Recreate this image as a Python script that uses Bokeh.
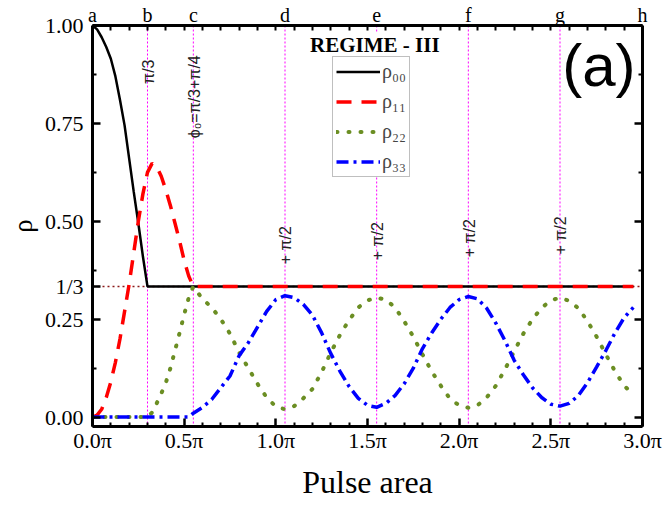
import math
from bokeh.plotting import figure
from bokeh.models import (Range1d, LinearAxis, FixedTicker, CustomJSTickFormatter, Span,
                          Label, LabelSet, ColumnDataSource, Legend, LegendItem)
from bokeh.embed import file_html
from bokeh.resources import INLINE
from bokeh.core.properties import value

# ---------------- data ----------------
pulse_area = [0.0, 0.025, 0.05, 0.075, 0.1, 0.125, 0.15, 0.175, 0.2, 0.225, 0.25, 0.275,
              0.3, 0.325, 0.35, 0.375, 0.4, 0.425, 0.45, 0.475, 0.5, 0.525, 0.55,
              0.6, 0.65, 0.7, 0.75, 0.8, 0.85, 0.9, 0.95, 1.0, 1.05,
              1.1, 1.15, 1.2, 1.25, 1.3, 1.35, 1.4, 1.45, 1.5, 1.55,
              1.6, 1.65, 1.7, 1.75, 1.8, 1.85, 1.9, 1.95, 2.0, 2.05,
              2.1, 2.15, 2.2, 2.25, 2.3, 2.35, 2.4, 2.45, 2.5, 2.55,
              2.6, 2.65, 2.7, 2.75, 2.8, 2.85, 2.9, 2.95]

rho00 = ([1.0, 0.99, 0.97, 0.945, 0.915, 0.87, 0.81, 0.745, 0.66, 0.575, 0.495, 0.41, 0.3333]
         + [0.3333] * 58)

rho11 = ([0.0, 0.005, 0.02, 0.05, 0.09, 0.14, 0.2, 0.27, 0.34, 0.42, 0.5, 0.57,
          0.625, 0.648, 0.64, 0.615, 0.58, 0.54, 0.495, 0.45, 0.40, 0.36, 0.3333]
         + [0.3333] * 48)

rho22 = ([0.0] * 13
         + [0.012, 0.035, 0.06, 0.088, 0.125, 0.17, 0.215, 0.262, 0.305, 0.3333]
         + [0.302, 0.28, 0.25, 0.213, 0.165, 0.125, 0.085, 0.05, 0.027, 0.02,
            0.028, 0.048, 0.072, 0.115, 0.165, 0.21, 0.248, 0.28, 0.298, 0.305,
            0.3, 0.28, 0.245, 0.205, 0.16, 0.117, 0.08, 0.047, 0.03, 0.024,
            0.03, 0.05, 0.08, 0.122, 0.168, 0.213, 0.25, 0.279, 0.298, 0.305,
            0.297, 0.278, 0.245, 0.205, 0.16, 0.117, 0.08, 0.058])

rho33 = ([0.0] * 22 + [0.01]
         + [0.025, 0.045, 0.075, 0.105, 0.157, 0.19, 0.23, 0.27, 0.3, 0.31,
            0.305, 0.288, 0.26, 0.215, 0.162, 0.117, 0.078, 0.048, 0.03, 0.025,
            0.035, 0.055, 0.085, 0.125, 0.175, 0.215, 0.25, 0.28, 0.3, 0.308,
            0.302, 0.278, 0.24, 0.195, 0.145, 0.108, 0.075, 0.05, 0.033, 0.028,
            0.035, 0.055, 0.088, 0.128, 0.17, 0.215, 0.254, 0.28])

series_names = ["ρ₀₀", "ρ₁₁", "ρ₂₂", "ρ₃₃"]

x_major = [0.0, 0.5, 1.0, 1.5, 2.0, 2.5, 3.0]
x_tick_labels = ["0.0π", "0.5π", "1.0π", "1.5π", "2.0π", "2.5π", "3.0π"]
x_minor = [0.1, 0.2, 0.3, 0.4, 0.6, 0.7, 0.8, 0.9, 1.1, 1.2, 1.3, 1.4, 1.6, 1.7, 1.8, 1.9,
           2.1, 2.2, 2.3, 2.4, 2.6, 2.7, 2.8, 2.9]
top_minor = [0.1, 0.2, 0.3, 0.4, 0.5, 0.6, 0.7, 0.8, 0.9, 1.0, 1.1, 1.2, 1.3, 1.4, 1.5,
             1.6, 1.7, 1.8, 1.9, 2.0, 2.1, 2.2, 2.3, 2.4, 2.5, 2.6, 2.7, 2.8, 2.9]
one_third = 1.0 / 3.0
y_major = [0.0, 0.25, one_third, 0.5, 0.75, 1.0]
y_tick_labels = ["0.00", "0.25", "1/3", "0.50", "0.75", "1.00"]
y_minor = [0.125, 0.375, 0.625, 0.875]

marker_x = [0.3, 0.55, 1.05, 1.55, 2.05, 2.55]
letter_x = [0.0, 0.3, 0.55, 1.05, 1.55, 2.05, 2.55, 3.0]
letter_text = ["a", "b", "c", "d", "e", "f", "g", "h"]
phase_x = [0.3, 0.55]
phase_y = [0.882, 0.818]
phase_text = ["π/3", "ϕ₀=π/3+π/4"]
half_x = [1.05, 1.55, 2.05, 2.55]
half_y = [0.439, 0.449, 0.457, 0.464]
half_text = ["+ π/2", "+ π/2", "+ π/2", "+ π/2"]

SERIF = "Liberation Serif"
SANS = "Liberation Sans"

# ---------------- figure ----------------
p = figure(width=664, height=510, output_backend="svg", toolbar_location=None,
           x_range=Range1d(0.0, 3.0), y_range=Range1d(-0.024, 1.0),
           min_border_left=92, min_border_right=22, min_border_top=23, min_border_bottom=84,
           background_fill_color="white", border_fill_color="white")
p.xgrid.visible = False
p.ygrid.visible = False
p.outline_line_color = "black"
p.outline_line_width = 1

fmt_code = ("const i = tv.findIndex(t => Math.abs(t - tick) < 1e-9);"
            "return i < 0 ? '' : labs[i];")


def style_axis(ax, ticks, minor):
    ax.ticker = FixedTicker(ticks=ticks, minor_ticks=minor)
    ax.axis_line_width = 3
    ax.axis_line_color = "black"
    ax.major_tick_in = 8
    ax.major_tick_out = 0
    ax.minor_tick_in = 4
    ax.minor_tick_out = 0
    ax.major_tick_line_width = 2.5
    ax.minor_tick_line_width = 2
    ax.major_label_text_font = SERIF
    ax.major_label_text_font_size = "22px"
    ax.major_label_text_color = "black"


xb = p.xaxis[0]
style_axis(xb, x_major, x_minor)
xb.formatter = CustomJSTickFormatter(args=dict(tv=x_major, labs=x_tick_labels), code=fmt_code)
xb.major_label_standoff = 1
xb.axis_label = "Pulse area"
xb.axis_label_text_font = SERIF
xb.axis_label_text_font_size = "32px"
xb.axis_label_text_font_style = "normal"
xb.axis_label_text_color = "black"
xb.axis_label_standoff = 8

yl = p.yaxis[0]
style_axis(yl, y_major, y_minor)
yl.formatter = CustomJSTickFormatter(args=dict(tv=y_major, labs=y_tick_labels), code=fmt_code)
yl.major_label_standoff = 9
yl.axis_label = "ρ"
yl.axis_label_text_font = SERIF
yl.axis_label_text_font_size = "27px"
yl.axis_label_text_font_style = "normal"
yl.axis_label_text_color = "black"
yl.axis_label_standoff = 4

xt = LinearAxis()
style_axis(xt, letter_x, top_minor)
xt.formatter = CustomJSTickFormatter(args=dict(tv=letter_x, labs=letter_text), code=fmt_code)
xt.major_tick_in = 0
xt.minor_tick_in = 5
xt.major_label_text_font_size = "20px"
xt.major_label_standoff = 0
p.add_layout(xt, "above")

yr = LinearAxis()
style_axis(yr, [0.0, 0.25, 0.5, 0.75, 1.0], y_minor)
yr.major_label_text_font_size = "0px"
yr.major_label_standoff = 0
p.add_layout(yr, "right")

# ---------------- reference lines ----------------
for mx in marker_x:
    p.add_layout(Span(location=mx, dimension="height", line_color="#FF00FF",
                      line_width=1, line_dash="2 2", level="underlay"))
p.add_layout(Span(location=one_third, dimension="width", line_color="#8B1A1A",
                  line_width=1.5, line_dash="2 3", level="underlay"))

# ---------------- curves ----------------
src = ColumnDataSource(dict(x=pulse_area, r0=rho00, r1=rho11, r2=rho22, r3=rho33))
g0 = p.line("x", "r0", source=src, line_color="black", line_width=2.5)
g1 = p.line("x", "r1", source=src, line_color="#FF0000", line_width=3.5, line_dash="15 10")
g2 = p.line("x", "r2", source=src, line_color="#6B8E23", line_width=4, line_dash="1 11",
            line_cap="round")
g3 = p.line("x", "r3", source=src, line_color="#0000FF", line_width=3.5, line_dash="12 5 3 5")

legend = Legend(items=[LegendItem(label=series_names[i], renderers=[g])
                       for i, g in enumerate([g0, g1, g2, g3])],
                location=(240, 249), label_text_font=SERIF, label_text_font_size="20px",
                glyph_width=44, glyph_height=23, label_height=23, label_standoff=2,
                padding=3, spacing=7, margin=0, border_line_color="#808080",
                border_line_width=1, background_fill_color="white", background_fill_alpha=1.0)
p.add_layout(legend)

# ---------------- texts ----------------
phases = ColumnDataSource(dict(x=phase_x, y=phase_y, t=phase_text))
p.add_layout(LabelSet(x="x", y="y", text="t", source=phases, angle=math.pi / 2,
                      text_align="center", text_baseline="middle", x_offset=1,
                      text_font=value(SANS), text_font_size="16px", text_color="#222222"))

halves = ColumnDataSource(dict(x=half_x, y=half_y, t=half_text))
p.add_layout(LabelSet(x="x", y="y", text="t", source=halves, angle=math.pi / 2,
                      text_align="center", text_baseline="middle", x_offset=1,
                      text_font=value(SANS), text_font_size="16px", text_color="#222222"))

p.add_layout(Label(x=1.54, y=0.951, text="REGIME - III", text_align="center",
                   text_baseline="alphabetic", text_font=SERIF, text_font_size="21px",
                   text_font_style="bold", text_color="black", background_fill_color="white"))
p.add_layout(Label(x=3.0, y=0.899, text="(a)", text_align="right", text_baseline="alphabetic",
                   x_offset=-7, text_font=SANS, text_font_size="60px", text_color="black"))

open("out.html", "w").write(file_html(p, INLINE))
